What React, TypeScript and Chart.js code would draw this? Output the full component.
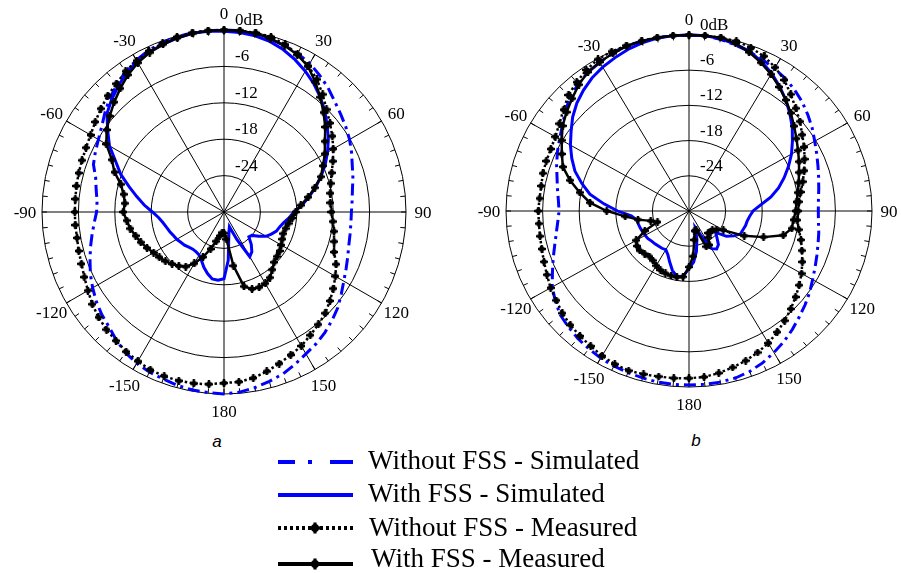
import React, { useEffect, useRef } from 'react';
import { Chart, registerables } from 'chart.js';

Chart.register(...registerables);

// Angle categories (degrees, clockwise from top), 5-degree steps
const ANGLES: number[] = Array.from({ length: 72 }, (_, i) => i * 5);
const ANGLE_TICKS = [0, 30, 60, 90, 120, 150, 180, 210, 240, 270, 300, 330];
const ANGLE_TICK_LABELS = ['0', '30', '60', '90', '120', '150', '180', '-150', '-120', '-90', '-60', '-30'];
const RING_VALUES = [0, -6, -12, -18, -24];
const RING_LABELS = ['0dB', '-6', '-12', '-18', '-24'];
const SERIES_NAMES = ['Without FSS - Simulated', 'With FSS - Simulated', 'Without FSS - Measured', 'With FSS - Measured'];

// ---- Plot a ----
const A_WITHOUT_SIM = [0, 0, -0.2, -0.5, -0.8, -1.2, -1.7, -2.5, -3.3, -4.2, -4.9, -5.5, -6.1, -6.8, -7.5, -8.0, -8.5, -8.8, -9.0, -9.0, -8.9, -8.7, -8.3, -7.8, -7.2, -6.4, -5.5, -4.8, -4.1, -3.5, -3.0, -2.3, -1.6, -1.1, -0.6, -0.2, 0, -0.1, -0.2, -0.4, -0.7, -0.9, -1.2, -1.7, -2.4, -3.2, -3.7, -4.3, -5.0, -5.7, -6.5, -7.2, -7.9, -8.5, -9.0, -9.0, -8.6, -8.1, -7.1, -6.6, -6.1, -5.4, -4.4, -3.4, -2.6, -1.7, -1.1, -0.6, -0.3, -0.1, 0, 0];
const A_WITH_SIM = [-0.2, -0.3, -0.5, -0.9, -1.5, -2.3, -3.2, -4.2, -5.3, -6.5, -7.8, -9.0, -10.3, -11.6, -13.0, -14.4, -15.8, -17.1, -18.5, -19.2, -20.0, -20.5, -20.8, -21.4, -22.0, -23.0, -24.0, -24.2, -23.0, -22.0, -21.5, -25.0, -27.4, -26.8, -25.5, -22.0, -19.0, -18.7, -18.8, -19.5, -20.3, -21.2, -21.8, -22.0, -22.0, -21.8, -21.5, -21.3, -21.0, -20.8, -20.5, -20.2, -19.8, -19.2, -18.2, -16.8, -15.4, -13.8, -11.9, -10.3, -8.2, -6.6, -4.8, -3.8, -2.9, -2.0, -1.3, -0.9, -0.6, -0.3, -0.1, -0.1];
const A_WITHOUT_MEAS = [0, 0, 0, -0.1, -0.6, -1.3, -2.2, -3.3, -4.7, -6.1, -7.2, -8.2, -9.2, -10.2, -11.1, -11.8, -12.2, -12.4, -12.3, -12.0, -11.6, -11.2, -10.7, -9.6, -8.8, -8.0, -7.2, -6.4, -5.8, -5.2, -4.5, -4.0, -3.4, -2.8, -2.2, -1.9, -1.8, -1.5, -1.3, -1.2, -1.2, -1.3, -1.6, -1.9, -2.3, -2.6, -3.0, -3.5, -4.1, -4.6, -5.0, -5.2, -5.4, -5.4, -5.4, -5.4, -5.3, -5.2, -5.1, -4.9, -4.6, -4.1, -3.5, -2.9, -2.4, -1.7, -1.2, -0.7, -0.4, -0.1, 0, 0];
const A_WITH_MEAS = [0, 0, -0.1, -0.4, -0.8, -1.4, -2.3, -3.8, -5.3, -6.8, -8.2, -9.7, -10.8, -12.0, -13.0, -14.5, -15.9, -17.3, -18.2, -18.7, -19.2, -19.5, -19.6, -19.4, -19.1, -18.8, -18.6, -18.3, -17.6, -16.8, -16.4, -16.3, -16.5, -17.3, -21.0, -25.5, -26.5, -26.6, -26.0, -25.0, -23.5, -21.8, -20.2, -19.0, -18.4, -17.9, -17.4, -17.0, -16.6, -16.0, -15.4, -14.9, -14.3, -13.9, -13.4, -13.6, -13.2, -12.4, -10.8, -9.6, -7.6, -6.4, -5.4, -4.4, -3.4, -2.4, -1.6, -1.0, -0.6, -0.3, -0.1, 0];

// ---- Plot b ----
const B_WITHOUT_SIM = [0, 0, -0.3, -0.7, -1.1, -1.5, -2.0, -2.45, -3.05, -3.75, -4.55, -5.35, -6.2, -6.9, -7.5, -8.0, -8.4, -8.7, -8.8, -8.7, -8.4, -8.1, -7.7, -7.2, -6.6, -5.85, -5.15, -4.45, -3.65, -2.85, -2.15, -1.45, -0.9, -0.55, -0.4, -0.35, -0.35, -0.35, -0.4, -0.55, -0.7, -0.85, -1.05, -1.35, -1.65, -2.05, -2.45, -3.25, -4.1, -5.3, -6.3, -7.2, -7.9, -8.4, -8.7, -8.5, -8.1, -7.6, -6.9, -6.2, -5.5, -4.65, -3.55, -2.45, -1.75, -1.15, -0.75, -0.35, -0.1, 0, 0, 0];
const B_WITH_SIM = [0, 0, -0.2, -0.55, -1.0, -1.9, -2.9, -4.1, -5.3, -6.6, -7.9, -9.3, -10.6, -12.0, -13.4, -14.8, -16.4, -18.2, -19.5, -20.0, -20.3, -20.4, -20.6, -20.7, -21.5, -22.5, -24.3, -23.5, -22.5, -22.1, -22.6, -25.5, -27.0, -25.0, -23.0, -21.25, -20.2, -18.8, -18.7, -19.5, -20.75, -21.8, -22.4, -22.25, -22.2, -22.1, -22.0, -21.8, -21.7, -21.6, -21.5, -21.4, -21.3, -20.5, -18.3, -16.0, -13.5, -11.8, -10.1, -8.8, -7.55, -6.4, -5.1, -4.0, -3.1, -2.3, -1.7, -1.2, -0.7, -0.35, -0.1, 0];
const B_WITHOUT_MEAS = [0, 0, 0, 0, -0.4, -0.9, -1.75, -2.75, -4.05, -5.25, -6.25, -7.35, -8.2, -9.1, -9.9, -10.7, -11.4, -11.9, -12.1, -12.2, -11.7, -11.0, -10.3, -9.5, -8.7, -7.95, -7.2, -6.4, -5.6, -4.8, -4.0, -3.4, -2.85, -2.4, -1.95, -1.6, -1.5, -1.4, -1.35, -1.2, -1.05, -1.2, -1.5, -1.9, -2.2, -2.5, -2.9, -3.45, -3.8, -4.3, -4.7, -5.0, -5.2, -5.3, -5.3, -5.4, -5.4, -5.2, -5.1, -5.0, -4.7, -4.05, -3.15, -2.05, -1.35, -0.65, -0.15, 0, 0, 0, 0, 0];
const B_WITH_MEAS = [0, 0, 0, -0.45, -1.2, -2.1, -3.1, -4.2, -5.3, -6.4, -7.5, -8.5, -9.35, -10.1, -10.8, -11.4, -11.9, -12.3, -12.5, -12.8, -12.9, -14.0, -17.0, -20.0, -23.5, -24.5, -25.0, -25.0, -25.1, -24.5, -23.3, -23.3, -26.5, -26.5, -25.0, -22.25, -20.45, -18.75, -18.55, -18.6, -18.7, -18.9, -19.25, -19.7, -19.9, -19.7, -19.5, -19.6, -20.0, -22.0, -24.5, -23.5, -21.5, -19.5, -16.5, -13.7, -11.8, -9.8, -8.0, -7.0, -5.9, -4.7, -3.8, -2.9, -1.9, -1.1, -0.7, -0.4, -0.1, 0, 0, 0];

const BLUE = '#0000ff';
const BLACK = '#000000';

function makeMarker(): HTMLCanvasElement {
  const c = document.createElement('canvas');
  c.width = 8;
  c.height = 8;
  const g = c.getContext('2d')!;
  g.fillStyle = BLACK;
  g.beginPath();
  g.arc(4, 4, 2.8, 0, Math.PI * 2);
  g.fill();
  g.fillRect(0, 2.8, 8, 2.4);
  g.fillRect(2.8, 0, 2.4, 8);
  return c;
}

// Draws outer-ring ticks, angle labels and dB labels; optionally squashes the plot vertically
const polarDecor = {
  id: 'polarDecor',
  beforeDraw(chart: any, _args: any, opts: any) {
    const k = opts.squash ?? 1;
    const scale = chart.scales.r;
    const ctx = chart.ctx;
    ctx.save();
    if (k !== 1) {
      ctx.translate(0, scale.yCenter);
      ctx.scale(1, k);
      ctx.translate(0, -scale.yCenter);
    }
  },
  beforeDatasetsDraw(chart: any) {
    const scale = chart.scales.r;
    const ctx = chart.ctx;
    const R = scale.drawingArea;
    ctx.save();
    ctx.strokeStyle = BLACK;
    ctx.lineWidth = 1;
    for (let i = 0; i < ANGLES.length; i++) {
      const p1 = scale.getPointPosition(i, R);
      const p2 = scale.getPointPosition(i, R - 5);
      ctx.beginPath();
      ctx.moveTo(p1.x, p1.y);
      ctx.lineTo(p2.x, p2.y);
      ctx.stroke();
    }
    ctx.restore();
  },
  afterDatasetsDraw(chart: any) {
    chart.ctx.restore();
  },
  afterDraw(chart: any, _args: any, opts: any) {
    const k = opts.squash ?? 1;
    const scale = chart.scales.r;
    const ctx = chart.ctx;
    const R = scale.drawingArea;
    const cy = scale.yCenter;
    ctx.save();
    ctx.fillStyle = BLACK;
    ctx.font = '17px "Liberation Serif", serif';
    ctx.textAlign = 'center';
    ctx.textBaseline = 'middle';
    ANGLE_TICKS.forEach((deg, i) => {
      const idx = ANGLES.indexOf(deg);
      const p = scale.getPointPosition(idx, R + 17);
      ctx.fillText(ANGLE_TICK_LABELS[i], p.x, cy + (p.y - cy) * k + 2);
    });
    ctx.textAlign = 'left';
    RING_VALUES.forEach((v, i) => {
      const d = scale.getDistanceFromCenterForValue(v);
      ctx.fillText(RING_LABELS[i], scale.xCenter + 11, cy - d * k - 9.5);
    });
    ctx.restore();
  },
};

function makeConfig(series: number[][], padding: any, squash: number, marker: HTMLCanvasElement): any {
  const [woSim, wSim, woMeas, wMeas] = series;
  return {
    type: 'radar',
    data: {
      labels: ANGLES.map(String),
      datasets: [
        {
          label: SERIES_NAMES[3], data: wMeas, borderColor: BLACK, borderWidth: 2.5,
          pointStyle: marker, pointRadius: 3, pointBackgroundColor: BLACK, fill: false, clip: false,
        },
        {
          label: SERIES_NAMES[2], data: woMeas, borderColor: BLACK, borderWidth: 2.5, borderDash: [2.5, 2.5],
          pointStyle: marker, pointRadius: 3, pointBackgroundColor: BLACK, fill: false, clip: false,
        },
        {
          label: SERIES_NAMES[1], data: wSim, borderColor: BLUE, borderWidth: 3,
          pointRadius: 0, fill: false, clip: false,
        },
        {
          label: SERIES_NAMES[0], data: woSim, borderColor: BLUE, borderWidth: 3, borderDash: [12, 5, 3, 5],
          pointRadius: 0, fill: false, clip: false,
        },
      ],
    },
    options: {
      animation: false,
      responsive: false,
      maintainAspectRatio: false,
      devicePixelRatio: 1,
      layout: { padding },
      elements: { line: { tension: 0 } },
      plugins: { legend: { display: false }, tooltip: { enabled: false }, polarDecor: { squash } },
      scales: {
        r: {
          min: -30,
          max: 0,
          startAngle: 0,
          ticks: { display: false, stepSize: 6 },
          grid: { circular: true, color: BLACK, lineWidth: 1 },
          angleLines: {
            display: true,
            color: BLACK,
            lineWidth: (ctx: any) => (ctx.index % 6 === 0 ? 1 : 0),
          },
          pointLabels: { display: false },
        },
      },
    },
    plugins: [polarDecor],
  };
}

const legendText: React.CSSProperties = {
  position: 'absolute',
  fontFamily: '"Liberation Serif", serif',
  fontSize: 27,
  lineHeight: '31px',
  whiteSpace: 'nowrap',
  color: '#000',
};

const captionStyle: React.CSSProperties = {
  position: 'absolute',
  width: 40,
  textAlign: 'center',
  fontFamily: '"Liberation Sans", sans-serif',
  fontStyle: 'italic',
  fontSize: 17,
  lineHeight: '20px',
};

function MarkerSvg({ cx, cy }: { cx: number; cy: number }) {
  return (
    <g fill={BLACK}>
      <circle cx={cx} cy={cy} r={4} />
      <rect x={cx - 5.5} y={cy - 1.6} width={11} height={3.2} />
      <rect x={cx - 1.6} y={cy - 5.5} width={3.2} height={11} />
    </g>
  );
}

export default function App() {
  const refA = useRef<HTMLCanvasElement>(null);
  const refB = useRef<HTMLCanvasElement>(null);

  useEffect(() => {
    const marker = makeMarker();
    const a = new Chart(
      refA.current!,
      makeConfig([A_WITHOUT_SIM, A_WITH_SIM, A_WITHOUT_MEAS, A_WITH_MEAS], { left: 42, top: 30, right: 44, bottom: 36 }, 1, marker)
    );
    const b = new Chart(
      refB.current!,
      makeConfig([B_WITHOUT_SIM, B_WITH_SIM, B_WITHOUT_MEAS, B_WITH_MEAS], { left: 46, top: 28, right: 29, bottom: 36 }, 0.962, marker)
    );
    return () => {
      a.destroy();
      b.destroy();
    };
  }, []);

  return (
    <div style={{ position: 'absolute', left: 0, top: 0, width: 901, height: 573, background: '#fff', overflow: 'hidden' }}>
      <canvas ref={refA} width={450} height={430} style={{ position: 'absolute', left: 0, top: 0, width: 450, height: 430 }} />
      <canvas ref={refB} width={441} height={430} style={{ position: 'absolute', left: 460, top: 0, width: 441, height: 430 }} />
      <div style={{ ...captionStyle, left: 197, top: 432 }}>a</div>
      <div style={{ ...captionStyle, left: 676, top: 431 }}>b</div>
      <svg width={901} height={573} style={{ position: 'absolute', left: 0, top: 0 }}>
        <g stroke={BLUE} strokeWidth={4} fill="none">
          <line x1={278} y1={462} x2={295} y2={462} />
          <line x1={308} y1={462} x2={312} y2={462} />
          <line x1={330} y1={462} x2={353} y2={462} />
          <line x1={278} y1={495} x2={353} y2={495} />
        </g>
        <line x1={278} y1={528} x2={353} y2={528} stroke={BLACK} strokeWidth={4} strokeDasharray="3 3" />
        <MarkerSvg cx={315} cy={528} />
        <line x1={278} y1={564} x2={353} y2={564} stroke={BLACK} strokeWidth={4} />
        <MarkerSvg cx={315} cy={564} />
      </svg>
      <div style={{ ...legendText, left: 368, top: 445 }}>{SERIES_NAMES[0]}</div>
      <div style={{ ...legendText, left: 368, top: 478 }}>{SERIES_NAMES[1]}</div>
      <div style={{ ...legendText, left: 369, top: 512 }}>{SERIES_NAMES[2]}</div>
      <div style={{ ...legendText, left: 371, top: 543 }}>{SERIES_NAMES[3]}</div>
    </div>
  );
}
